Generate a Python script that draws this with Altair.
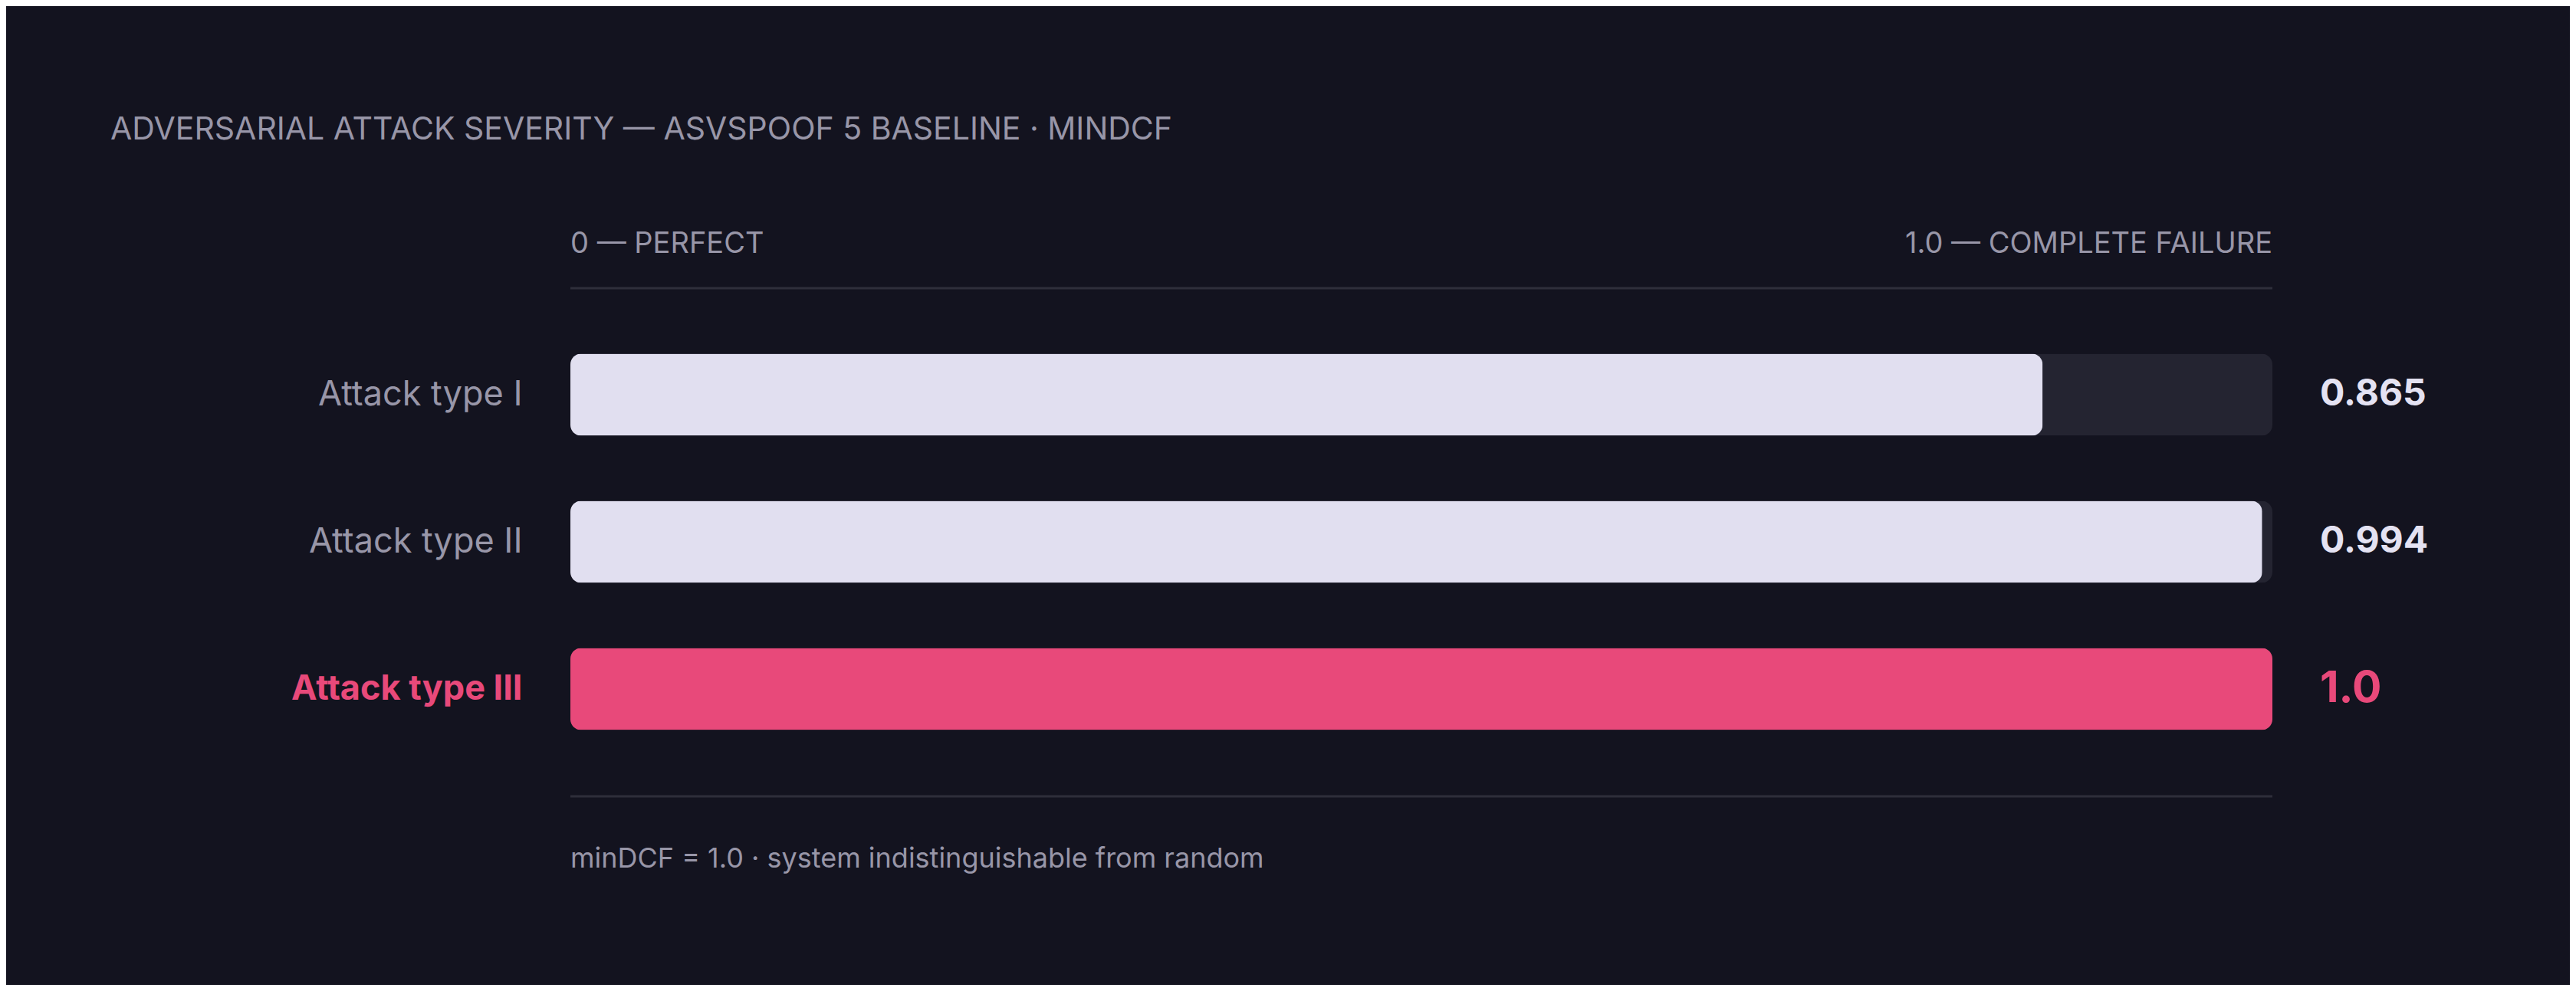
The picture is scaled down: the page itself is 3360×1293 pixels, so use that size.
import altair as alt
import pandas as pd

# ---- data ----
categories = ["Attack type I", "Attack type II", "Attack type III"]
values = [0.865, 0.994, 1.0]
value_labels = ["0.865", "0.994", "1.0"]
highlight = [False, False, True]

title_text = "ADVERSARIAL ATTACK SEVERITY — ASVSPOOF 5 BASELINE · MINDCF"
left_header = "0 — PERFECT"
right_header = "1.0 — COMPLETE FAILURE"
footnote = "minDCF = 1.0 · system indistinguishable from random"

# ---- style ----
BG = "#13131f"
TRACK = "#242431"
BAR = "#e1dff0"
PINK = "#e8497a"
MUTED = "#9896a8"
RULE = "#2e2e3a"
VALUE = "#e4e2f2"
FONT = "Inter"

df = pd.DataFrame({
    "category": categories,
    "value": values,
    "label": value_labels,
    "highlight": highlight,
    "full": [1.0] * len(categories),
})

xscale = alt.Scale(domain=[0, 1], nice=False, zero=True)
yenc = alt.Y(
    "category:N",
    sort=categories,
    scale=alt.Scale(paddingInner=0.443, paddingOuter=0.2215),
    axis=alt.Axis(
        title=None, domain=False, ticks=False, grid=False,
        labelFont=FONT, labelFontSize=45, labelPadding=63, labelLimit=800,
        labelColor=alt.condition("datum.value == 'Attack type III'", alt.value(PINK), alt.value(MUTED)),
        labelFontWeight=alt.condition("datum.value == 'Attack type III'", alt.value("bold"), alt.value("normal")),
    ),
)

base = alt.Chart(df)

track = base.mark_bar(cornerRadius=14, color=TRACK).encode(
    x=alt.X("full:Q", scale=xscale, axis=None), y=yenc
)

bars = base.mark_bar(cornerRadius=14).encode(
    x=alt.X("value:Q", scale=xscale, axis=None),
    y=yenc,
    color=alt.condition("datum.highlight", alt.value(PINK), alt.value(BAR)),
)

vals = base.mark_text(align="left", baseline="middle", font=FONT, fontWeight="bold").encode(
    x=alt.value(2282),
    y=alt.Y("category:N", sort=categories),
    text="label:N",
    color=alt.condition("datum.highlight", alt.value(PINK), alt.value(VALUE)),
    size=alt.condition("datum.highlight", alt.value(57), alt.value(48)),
)

one = pd.DataFrame({"k": [0]})

top_rule = alt.Chart(one).mark_rule(color=RULE, strokeWidth=3).encode(
    x=alt.datum(0, scale=xscale), x2=alt.datum(1), y=alt.value(-43)
)
bottom_rule = alt.Chart(one).mark_rule(color=RULE, strokeWidth=3).encode(
    x=alt.datum(0, scale=xscale), x2=alt.datum(1), y=alt.value(620)
)

title = alt.Chart(one).mark_text(
    align="left", baseline="alphabetic", font=FONT, fontSize=41, color=MUTED, text=title_text
).encode(x=alt.value(-600), y=alt.value(-237))

hl = alt.Chart(one).mark_text(
    align="left", baseline="alphabetic", font=FONT, fontSize=38, color=MUTED, text=left_header
).encode(x=alt.datum(0, scale=xscale), y=alt.value(-89))

hr = alt.Chart(one).mark_text(
    align="right", baseline="alphabetic", font=FONT, fontSize=38, color=MUTED, text=right_header
).encode(x=alt.datum(1, scale=xscale), y=alt.value(-89))

foot = alt.Chart(one).mark_text(
    align="left", baseline="alphabetic", font=FONT, fontSize=36, color=MUTED, text=footnote
).encode(x=alt.datum(0, scale=xscale), y=alt.value(713))

chart = alt.layer(track, bars, vals, top_rule, bottom_rule, title, hl, hr, foot).properties(
    width=2220,
    height=576,
    autosize=alt.AutoSizeParams(type="none"),
    padding={"left": 736, "top": 411, "right": 388, "bottom": 290},
    background=BG,
).configure_view(stroke=None)

chart.save("out.html", embed_options={"renderer": "svg", "actions": False})
